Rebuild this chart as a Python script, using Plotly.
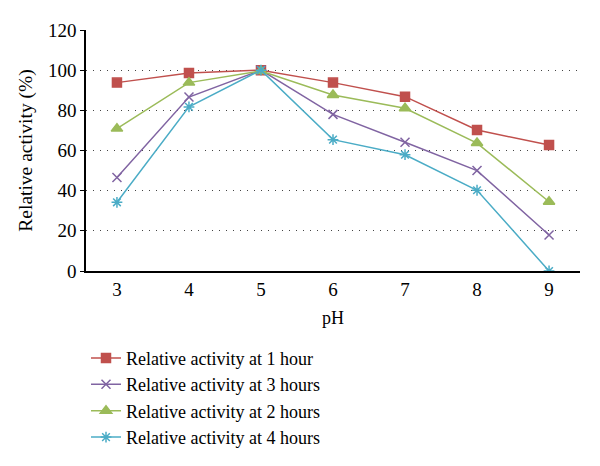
import plotly.graph_objects as go

ph = ["3", "4", "5", "6", "7", "8", "9"]
act_1h = [93.8, 98.6, 100, 93.8, 86.8, 70.2, 62.7]
act_3h = [46.6, 86.6, 100, 78.0, 64.1, 50.0, 17.9]
act_2h = [70.9, 93.8, 99.6, 87.6, 81.0, 63.7, 34.5]
act_4h = [34.2, 81.7, 100, 65.4, 57.9, 40.2, 0.0]
y_ticks = [0, 20, 40, 60, 80, 100, 120]

series = [
    ("Relative activity at 1 hour", act_1h, "#C0504D", "square", 9),
    ("Relative activity at 3 hours", act_3h, "#8064A2", "x-thin", 9),
    ("Relative activity at 2 hours", act_2h, "#9BBB59", "triangle-up", 10),
    ("Relative activity at 4 hours", act_4h, "#4BACC6", "asterisk", 9),
]

fig = go.Figure()
for name, vals, col, sym, sz in series:
    fig.add_trace(go.Scatter(
        x=ph, y=vals, name=name, mode="lines+markers",
        line=dict(color=col, width=1.5),
        marker=dict(symbol=sym, size=sz, color=col,
                    line=dict(color=col, width=1.5)),
    ))

font_family = "Liberation Serif, DejaVu Serif, serif"
fig.update_layout(
    width=584, height=450,
    margin=dict(l=78, r=12, t=22, b=187, autoexpand=False),
    paper_bgcolor="white", plot_bgcolor="white",
    font=dict(family=font_family, size=19, color="black"),
    showlegend=True,
    legend=dict(x=0.0, y=-0.285, xanchor="left", yanchor="top",
                font=dict(family=font_family, size=18), tracegroupgap=0,
                itemwidth=30, bgcolor="rgba(0,0,0,0)"),
    xaxis=dict(
        title=dict(text="pH", standoff=13,
                   font=dict(family=font_family, size=18)),
        automargin=False,
        showline=True, linecolor="black", linewidth=1.5,
        showgrid=False, ticks="", zeroline=False,
        tickfont=dict(family=font_family, size=19),
    ),
    yaxis=dict(
        title=dict(text="Relative activity (%)", standoff=10,
                   font=dict(family=font_family, size=19.5)),
        automargin=False,
        range=[0, 120], tickvals=y_ticks,
        showline=True, linecolor="black", linewidth=1.5,
        ticks="outside", ticklen=4, tickcolor="black",
        showgrid=True, gridcolor="#444444", griddash="1px,6px", gridwidth=1.2,
        zeroline=False,
        tickfont=dict(family=font_family, size=19),
    ),
)
fig.write_html("out.html")
